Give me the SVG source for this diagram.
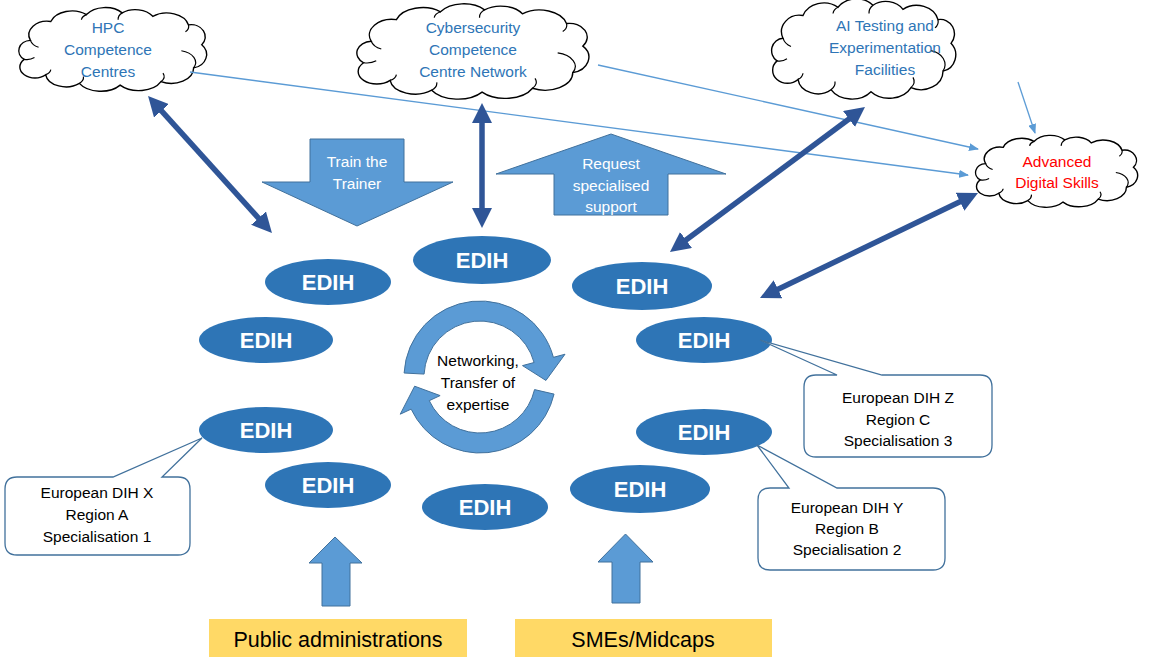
<svg xmlns="http://www.w3.org/2000/svg" width="1150" height="657" viewBox="0 0 1150 657">
<style>
text{font-family:"Liberation Sans",Arial,sans-serif}
.ct{font-size:15.5px;fill:#2E75B6;text-anchor:middle}
.cloud{fill:#fff;stroke:#000;stroke-width:1.4;vector-effect:non-scaling-stroke}
.curl{fill:none;stroke:#000;stroke-width:1.2;vector-effect:non-scaling-stroke}
.edih{fill:#2E75B6}
.et{font-size:22px;font-weight:bold;fill:#fff;text-anchor:middle}
.blk{fill:#5B9BD5;stroke:#41719C;stroke-width:1}
.wt{font-size:15.5px;fill:#fff;text-anchor:middle}
.call{fill:#fff;stroke:#41719C;stroke-width:1.3}
.bt{font-size:15.5px;fill:#000;text-anchor:middle}
.thick{stroke:#2F5597;stroke-width:5.5;fill:none;marker-start:url(#hd);marker-end:url(#hd)}
.thin{stroke:#5B9BD5;stroke-width:1.3;fill:none;marker-end:url(#ha)}
.yel{fill:#FFD966}
.yt{font-size:21.5px;fill:#000;text-anchor:middle}
</style>
<defs>
<marker id="hd" viewBox="0 0 20 20" markerWidth="20" markerHeight="20" refX="8" refY="10" orient="auto-start-reverse" markerUnits="userSpaceOnUse"><path d="M0,0 L20,10 L0,20 Z" fill="#2F5597"/></marker>
<marker id="ha" viewBox="0 0 10 8" markerWidth="10" markerHeight="8" refX="9" refY="4" orient="auto" markerUnits="userSpaceOnUse"><path d="M0,0 L10,4 L0,8 Z" fill="#5B9BD5"/></marker>
<g id="cloudshape">
<path class="cloud" d="M20,40 A18,16 0 0 1 40,18 A22,18 0 0 1 75,10 A22,18 0 0 1 110,8 A20,16 0 0 1 140,12 A22,18 0 0 1 175,22 A14,14 0 0 1 188,45 A16,16 0 0 1 180,72 A22,18 0 0 1 148,88 A24,18 0 0 1 108,92 A24,18 0 0 1 68,90 A20,16 0 0 1 35,80 A14,12 0 0 1 14,62 A12,12 0 0 1 20,40 Z"/>
<path class="curl" d="M20,40 A14,12 0 0 0 28,48 M14,62 A12,10 0 0 0 24,60 M35,80 A10,8 0 0 0 40,74 M68,90 A14,10 0 0 0 72,82 M148,88 A14,10 0 0 0 150,78 M180,72 A18,14 0 0 0 168,52 M175,22 A8,8 0 0 1 172,30 M110,8 A12,10 0 0 0 106,16 M75,10 A10,8 0 0 0 70,16"/>
</g>
</defs>
<rect width="1150" height="657" fill="#fff"/>

<g id="hpc">
<use href="#cloudshape" transform="translate(10,6) scale(1.02,0.86)"/>
<text class="ct" x="108" y="33">HPC</text>
<text class="ct" x="108" y="55">Competence</text>
<text class="ct" x="108" y="77">Centres</text>
</g>
<g id="cyber">
<use href="#cloudshape" transform="translate(346,2) scale(1.26,0.98)"/>
<text class="ct" x="473" y="33">Cybersecurity</text>
<text class="ct" x="473" y="55">Competence</text>
<text class="ct" x="473" y="77">Centre Network</text>
</g>
<g id="ai">
<use href="#cloudshape" transform="translate(763,-3) scale(1.0,1.03)"/>
<text class="ct" x="885" y="31">AI Testing and</text>
<text class="ct" x="885" y="53">Experimentation</text>
<text class="ct" x="885" y="75">Facilities</text>
</g>
<g id="advanced">
<use href="#cloudshape" transform="translate(968,134) scale(0.88,0.74)"/>
<text class="ct" x="1057" y="167" style="fill:#FF0000">Advanced</text>
<text class="ct" x="1057" y="188" style="fill:#FF0000">Digital Skills</text>
</g>

<g id="connectors">
<line class="thin" x1="190" y1="72" x2="968" y2="175"/>
<line class="thin" x1="598" y1="65" x2="978" y2="149"/>
<line class="thin" x1="1018" y1="82" x2="1035" y2="133"/>
<line class="thick" x1="156.1" y1="104.9" x2="263.9" y2="224.1"/>
<line class="thick" x1="482" y1="115" x2="482" y2="216"/>
<line class="thick" x1="855.4" y1="114.2" x2="679.6" y2="244.8"/>
<line class="thick" x1="967.2" y1="198.2" x2="770.8" y2="292.8"/>
</g>

<g id="train">
<path class="blk" d="M310,139 L404,139 L404,182 L453,182 L357,226 L262,182 L310,182 Z"/>
<text class="wt" x="357" y="167">Train the</text>
<text class="wt" x="357" y="189">Trainer</text>
</g>
<g id="request">
<path class="blk" d="M611,134 L726,174 L668,174 L668,215 L554,215 L554,174 L496,174 Z"/>
<text class="wt" x="611" y="169">Request</text>
<text class="wt" x="611" y="191">specialised</text>
<text class="wt" x="611" y="212">support</text>
</g>

<g id="cycle">
<path class="blk" d="M404.10,373.02 A76,76 0 0 1 553.41,357.33 L565.00,354.22 L545.91,380.45 L522.50,365.61 L534.09,362.51 A56,56 0 0 0 424.08,374.07 Z"/>
<path class="blk" d="M554.05,394.10 A76,76 0 0 1 411.12,409.12 L400.24,414.19 L414.64,386.19 L440.12,395.60 L429.25,400.67 A56,56 0 0 0 534.56,389.60 Z"/>
<text class="bt" x="478" y="366">Networking,</text>
<text class="bt" x="478" y="388">Transfer of</text>
<text class="bt" x="478" y="410">expertise</text>
</g>

<g id="edih1"><ellipse class="edih" cx="328" cy="282" rx="63" ry="23"/><text class="et" x="328" y="290">EDIH</text></g>
<g id="edih2"><ellipse class="edih" cx="482" cy="260" rx="69" ry="24"/><text class="et" x="482" y="268">EDIH</text></g>
<g id="edih3"><ellipse class="edih" cx="642" cy="286" rx="70" ry="24"/><text class="et" x="642" y="294">EDIH</text></g>
<g id="edih4"><ellipse class="edih" cx="266" cy="340" rx="67" ry="23"/><text class="et" x="266" y="348">EDIH</text></g>
<g id="edih5"><ellipse class="edih" cx="704" cy="340" rx="68" ry="23"/><text class="et" x="704" y="348">EDIH</text></g>
<g id="edih6"><ellipse class="edih" cx="266" cy="430" rx="67" ry="23"/><text class="et" x="266" y="438">EDIH</text></g>
<g id="edih7"><ellipse class="edih" cx="704" cy="432" rx="68" ry="23"/><text class="et" x="704" y="440">EDIH</text></g>
<g id="edih8"><ellipse class="edih" cx="328" cy="485" rx="63" ry="23"/><text class="et" x="328" y="493">EDIH</text></g>
<g id="edih9"><ellipse class="edih" cx="485" cy="507" rx="63" ry="23"/><text class="et" x="485" y="515">EDIH</text></g>
<g id="edih10"><ellipse class="edih" cx="640" cy="489" rx="70" ry="24"/><text class="et" x="640" y="497">EDIH</text></g>

<g id="calloutX">
<path class="call" d="M17,477 L113,477 L202,438 L162,477 L178,477 Q190,477 190,489 L190,543 Q190,555 178,555 L17,555 Q5,555 5,543 L5,489 Q5,477 17,477 Z"/>
<text class="bt" x="97" y="498">European DIH X</text>
<text class="bt" x="97" y="520">Region A</text>
<text class="bt" x="97" y="542">Specialisation 1</text>
</g>
<g id="calloutZ">
<path class="call" d="M816,375 L837,375 L760,340 L882,375 L980,375 Q992,375 992,387 L992,445 Q992,457 980,457 L816,457 Q804,457 804,445 L804,387 Q804,375 816,375 Z"/>
<text class="bt" x="898" y="403">European DIH Z</text>
<text class="bt" x="898" y="425">Region C</text>
<text class="bt" x="898" y="446">Specialisation 3</text>
</g>
<g id="calloutY">
<path class="call" d="M770,488 L789,488 L757,445 L837,488 L933,488 Q945,488 945,500 L945,558 Q945,570 933,570 L770,570 Q758,570 758,558 L758,500 Q758,488 770,488 Z"/>
<text class="bt" x="847" y="513">European DIH Y</text>
<text class="bt" x="847" y="534">Region B</text>
<text class="bt" x="847" y="555">Specialisation 2</text>
</g>

<g id="uparrow1"><path class="blk" d="M335,537 L362,563 L350,563 L350,606 L322,606 L322,563 L309,563 Z"/></g>
<g id="uparrow2"><path class="blk" d="M625.5,534 L653,562 L640,562 L640,603 L612,603 L612,562 L598,562 Z"/></g>

<g id="public"><rect class="yel" x="209" y="619" width="258" height="38"/><text class="yt" x="338" y="647">Public administrations</text></g>
<g id="smes"><rect class="yel" x="515" y="619" width="257" height="38"/><text class="yt" x="643" y="647">SMEs/Midcaps</text></g>
</svg>
